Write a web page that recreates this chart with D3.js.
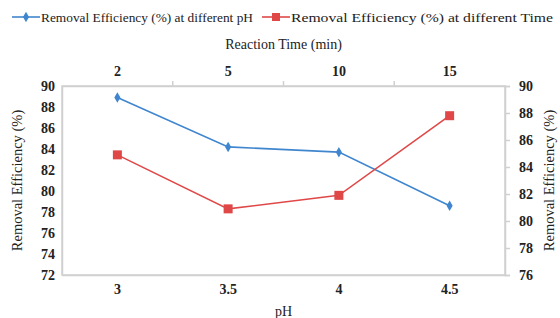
<!DOCTYPE html>
<html>
<head>
<meta charset="utf-8">
<script src="https://cdn.jsdelivr.net/npm/d3@7"></script>
<style>
  body { margin: 0; background: #fff; }
  svg text { font-family: "Liberation Serif", "Times New Roman", Tinos, serif !important; }
</style>
</head>
<body>
<svg id="chart"></svg>
<script>
const phLabels = ["3", "3.5", "4", "4.5"]
const timeLabels = ["2", "5", "10", "15"]
const effPH = [88.9, 84.2, 83.7, 78.6]
const effTime = [84.9, 80.9, 81.9, 87.8]
const leftTicks = [72, 74, 76, 78, 80, 82, 84, 86, 88, 90]
const rightTicks = [76, 78, 80, 82, 84, 86, 88, 90]

const width = 560, height = 318
const margin = {top: 86, right: 55, bottom: 43, left: 62}
const w = width - margin.left - margin.right
const h = height - margin.top - margin.bottom
const blue = "#3f86cf", red = "#e04848", grey = "#d0d0d0"

const svg = d3.select("#chart").attr("width", width).attr("height", height)
const g = svg.append("g").attr("transform", "translate(" + margin.left + "," + margin.top + ")")

const x = d3.scaleBand().domain(phLabels).range([0, w])
const xTop = d3.scaleBand().domain(timeLabels).range([0, w])
const yL = d3.scaleLinear().domain([72, 90]).range([h, 0])
const yR = d3.scaleLinear().domain([76, 90]).range([h, 0])

// frame
g.append("rect").attr("width", w).attr("height", h)
  .attr("fill", "none").attr("stroke", grey).attr("stroke-width", 1.5)

// bottom axis (pH)
const xb = g.append("g").attr("transform", "translate(0," + h + ")")
  .call(d3.axisBottom(x).tickSize(0).tickPadding(9))
// top axis (time), ticks at category boundaries
const xt = g.append("g").call(d3.axisTop(xTop).tickSize(0).tickPadding(10))
g.append("g").selectAll("line").data(timeLabels.slice(1)).join("line")
  .attr("x1", d => xTop(d)).attr("x2", d => xTop(d))
  .attr("y1", 0).attr("y2", -5).attr("stroke", grey).attr("stroke-width", 1.5)
// left axis
const yl = g.append("g").call(d3.axisLeft(yL).tickValues(leftTicks).tickSize(0).tickPadding(7))
// right axis
const yr = g.append("g").attr("transform", "translate(" + w + ",0)")
  .call(d3.axisRight(yR).tickValues(rightTicks).tickSize(5).tickPadding(7))

for (const ax of [xb, xt, yl, yr]) {
  ax.attr("font-family", null)
  ax.select(".domain").attr("stroke", grey).attr("stroke-width", 1.5)
  ax.selectAll(".tick line").attr("stroke", grey).attr("stroke-width", 1.5)
  ax.selectAll("text").attr("font-size", 14).attr("font-weight", "bold").attr("fill", "#222")
}
yr.selectAll("text").attr("dx", 2)

// lines
const lineL = d3.line().x((d, i) => x(phLabels[i]) + x.bandwidth() / 2).y(d => yL(d))
const lineR = d3.line().x((d, i) => xTop(timeLabels[i]) + xTop.bandwidth() / 2).y(d => yR(d))

g.append("path").datum(effPH).attr("d", lineL)
  .attr("fill", "none").attr("stroke", blue).attr("stroke-width", 1.6)
g.append("path").datum(effTime).attr("d", lineR)
  .attr("fill", "none").attr("stroke", red).attr("stroke-width", 1.6)

const diamond = d3.symbol().type(d3.symbolDiamond).size(32)
g.selectAll(".mk-ph").data(effPH).join("path")
  .attr("d", diamond).attr("fill", blue)
  .attr("transform", (d, i) => "translate(" + (x(phLabels[i]) + x.bandwidth() / 2) + "," + yL(d) + ")")
g.selectAll(".mk-t").data(effTime).join("rect")
  .attr("width", 9).attr("height", 9).attr("fill", red)
  .attr("x", (d, i) => xTop(timeLabels[i]) + xTop.bandwidth() / 2 - 4.5)
  .attr("y", d => yR(d) - 4.5)

// titles
svg.append("text").attr("x", margin.left + w / 2).attr("y", 49)
  .attr("text-anchor", "middle").attr("font-size", 14).attr("fill", "#222")
  .text("Reaction Time (min)")
svg.append("text").attr("x", margin.left + w / 2).attr("y", 316)
  .attr("text-anchor", "middle").attr("font-size", 14).attr("fill", "#222")
  .text("pH")
svg.append("text").attr("transform", "translate(22," + (margin.top + h / 2) + ") rotate(-90)")
  .attr("text-anchor", "middle").attr("font-size", 14.5).attr("fill", "#222")
  .text("Removal Efficiency (%)")
svg.append("text").attr("transform", "translate(554," + (margin.top + h / 2) + ") rotate(-90)")
  .attr("text-anchor", "middle").attr("font-size", 14.5).attr("fill", "#222")
  .text("Removal Efficiency (%)")

// legend
const legend = [
  {label: "Removal Efficiency (%) at different pH", color: blue, type: "diamond", x: 12},
  {label: "Removal Efficiency (%) at different Time", color: red, type: "square", x: 262}
]
const lg = svg.append("g").selectAll("g").data(legend).join("g")
  .attr("transform", d => "translate(" + d.x + ",17)")
lg.append("line").attr("x1", 0).attr("x2", 28).attr("stroke", d => d.color).attr("stroke-width", 1.6)
lg.filter(d => d.type === "diamond").append("path")
  .attr("d", diamond).attr("transform", "translate(14,0)").attr("fill", d => d.color)
lg.filter(d => d.type === "square").append("rect")
  .attr("x", 10).attr("y", -4).attr("width", 8).attr("height", 8).attr("fill", d => d.color)
lg.append("text").attr("x", 29).attr("y", 5).attr("font-size", 13.5).attr("fill", "#222")
  .attr("textLength", (d, i) => i === 0 ? 212 : 262).attr("lengthAdjust", "spacingAndGlyphs")
  .text(d => d.label)
</script>
</body>
</html>
